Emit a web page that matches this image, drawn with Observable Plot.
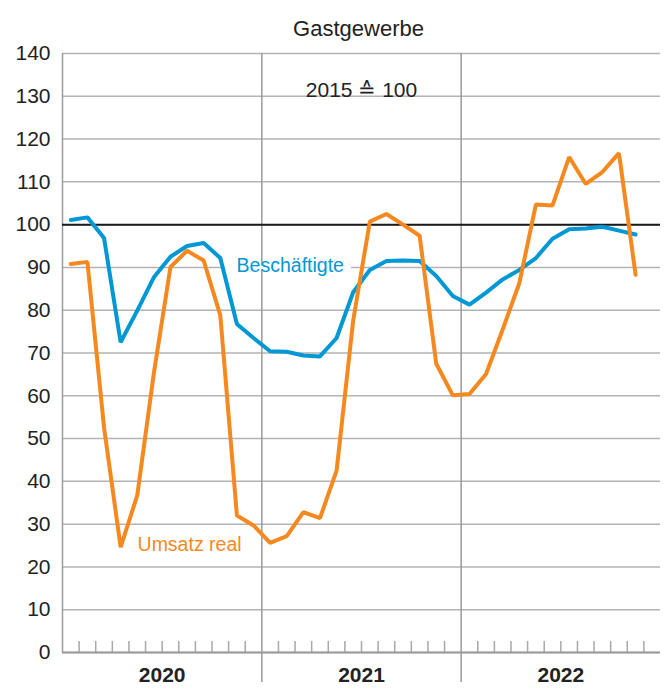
<!DOCTYPE html>
<html>
<head>
<meta charset="utf-8">
<script src="https://cdn.jsdelivr.net/npm/d3@7"></script>
<script src="https://cdn.jsdelivr.net/npm/@observablehq/plot@0.6"></script>
<style>
  html, body { margin: 0; padding: 0; background: white; }
</style>
</head>
<body>
<div id="chart"></div>
<script>
const years = [2020, 2021, 2022];
const monthsPerSeries = 35; // Jan 2020 .. Nov 2022
const months = [];
for (const y of years) for (let m = 1; m <= 12; m++) months.push({year: y, month: m});
const dates = months.slice(0, monthsPerSeries);

const beschaeftigte = [101.1, 101.7, 96.9, 72.5, 79.9, 87.7, 92.5, 95.0, 95.7, 92.2, 76.8, 73.5,
                       70.4, 70.3, 69.4, 69.2, 73.5, 84.2, 89.4, 91.5, 91.6, 91.5, 88.0, 83.3,
                       81.3, 84.1, 87.2, 89.4, 92.2, 96.7, 98.9, 99.1, 99.5, 98.6, 97.7];
const umsatzReal = [90.8, 91.3, 52.6, 24.6, 36.7, 65.3, 90.1, 93.9, 91.6, 78.8, 32.0, 29.7,
                    25.6, 27.2, 32.8, 31.4, 42.5, 77.6, 100.7, 102.5, 100.0, 97.4, 67.5, 60.1,
                    60.4, 65.1, 75.5, 86.3, 104.7, 104.5, 115.8, 109.5, 112.3, 116.7, 88.3];
const yTicks = [0, 10, 20, 30, 40, 50, 60, 70, 80, 90, 100, 110, 120, 130, 140];
const title = "Gastgewerbe";
const subtitle = "2015 \u2259 100";
const labelBlue = "Beschäftigte";
const labelOrange = "Umsatz real";

const xPos = d => d.year + (d.month - 0.5) / 12;
const blueData = dates.map((d, i) => ({x: xPos(d), v: beschaeftigte[i]}));
const orangeData = dates.map((d, i) => ({x: xPos(d), v: umsatzReal[i]}));
const monthTicks = [];
for (const y of years) for (let k = 1; k < 12; k++) monthTicks.push(y + k / 12);
const yearMids = years.map(y => y + 0.5);

const blue = "#0098d4";
const orange = "#f5891f";
const grid = "#b3b3b3";
const textColor = "#222";

const chart = Plot.plot({
  width: 670,
  height: 689,
  marginTop: 53,
  marginBottom: 37,
  marginLeft: 62,
  marginRight: 10,
  style: {fontFamily: "'Liberation Sans', Arial, sans-serif", background: "white", overflow: "visible"},
  x: {domain: [2020, 2023], label: null},
  y: {domain: [0, 140], label: null},
  marks: [
    Plot.gridY(yTicks, {stroke: grid, strokeOpacity: 1, strokeWidth: 1.5}),
    Plot.ruleX([2021, 2022], {stroke: "#9a9a9a", strokeWidth: 1.5, insetBottom: -30}),
    Plot.ruleX(monthTicks, {stroke: "#a8a8a8", strokeWidth: 1.5, insetTop: 588}),
    Plot.ruleX([2020], {stroke: "#9a9a9a", strokeWidth: 1.5}),
    Plot.ruleY([0], {stroke: "#9a9a9a", strokeWidth: 2}),
    Plot.ruleY([100], {stroke: "#1a1a1a", strokeWidth: 2}),
    Plot.ruleY([90], {x1: 2020.815, x2: 2021.45, stroke: "white", strokeWidth: 4}),
    Plot.axisY(yTicks, {label: null, tickSize: 0, tickPadding: 12, fontSize: 21, fill: textColor}),
    Plot.axisX(yearMids, {label: null, tickSize: 0, tickPadding: 15, fontSize: 21, fontWeight: "bold", fill: textColor, tickFormat: d => String(Math.floor(d))}),
    Plot.line(blueData, {x: "x", y: "v", stroke: blue, strokeWidth: 4, strokeLinejoin: "miter"}),
    Plot.line(orangeData, {x: "x", y: "v", stroke: orange, strokeWidth: 4, strokeLinejoin: "miter"}),
    Plot.text([labelBlue], {x: 2020.8735, y: 90.4, text: d => d, textAnchor: "start", fontSize: 19.5, fill: blue}),
    Plot.text([labelOrange], {x: 2020.3765, y: 25.1, text: d => d, textAnchor: "start", fontSize: 19.5, fill: orange}),
    Plot.text([title], {frameAnchor: "top", dy: -33, dx: -3, text: d => d, fontSize: 22, fill: textColor}),
    Plot.text([subtitle], {frameAnchor: "top", dy: 29, text: d => d, fontSize: 21, fill: textColor})
  ]
});
document.getElementById("chart").append(chart);
</script>
</body>
</html>
